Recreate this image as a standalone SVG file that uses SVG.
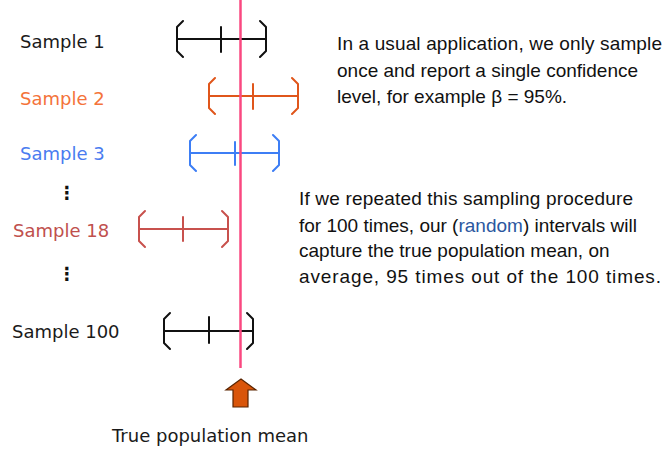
<svg xmlns="http://www.w3.org/2000/svg" xmlns:xlink="http://www.w3.org/1999/xlink" width="664" height="449" viewBox="0 0 664 449">
<style>
.lbl{font-family:"DejaVu Sans",Verdana,sans-serif;font-size:18px}
.note{font-family:"Liberation Sans",Arial,sans-serif;font-size:19px;fill:#111}
.ci{fill:none;stroke-width:2;stroke-linecap:round;stroke-linejoin:round}
</style>
<defs>
<path id="interval" d="M6,-18 L0,-12 L0,12 L6,18 M0,0 L89,0 M83,-18 L89,-12 L89,12 L83,18"/>
</defs>
<rect width="664" height="449" fill="#fff"/>
<g id="sample1">
<text class="lbl" x="20" y="48" fill="#1a1a1a">Sample 1</text>
<use xlink:href="#interval" class="ci" stroke="#111" transform="translate(177,39)"/>
<line class="ci" stroke="#111" x1="221" y1="27" x2="221" y2="52"/>
</g>
<g id="sample2">
<text class="lbl" x="20" y="105" fill="#F4733A">Sample 2</text>
<use xlink:href="#interval" class="ci" stroke="#E0561B" transform="translate(209,96)"/>
<line class="ci" stroke="#E0561B" x1="253" y1="84" x2="253" y2="109"/>
</g>
<g id="sample3">
<text class="lbl" x="20" y="160" fill="#4A7CF0">Sample 3</text>
<use xlink:href="#interval" class="ci" stroke="#3D7EF5" transform="translate(190,153)"/>
<line class="ci" stroke="#3D7EF5" x1="235" y1="142" x2="235" y2="165"/>
</g>
<g id="dots1"><text class="lbl" x="67" y="199" text-anchor="middle" fill="#111" font-size="26" font-weight="bold">⋮</text></g>
<g id="sample18">
<text class="lbl" x="13" y="237" fill="#C0504D">Sample 18</text>
<use xlink:href="#interval" class="ci" stroke="#C8514D" transform="translate(139,229)"/>
<line class="ci" stroke="#C8514D" x1="183" y1="217" x2="183" y2="241"/>
</g>
<g id="dots2"><text class="lbl" x="67" y="280" text-anchor="middle" fill="#111" font-size="26" font-weight="bold">⋮</text></g>
<g id="sample100">
<text class="lbl" x="12" y="338" fill="#1a1a1a">Sample 100</text>
<use xlink:href="#interval" class="ci" stroke="#111" transform="translate(164,331)"/>
<line class="ci" stroke="#111" x1="209" y1="317" x2="209" y2="343"/>
</g>
<g id="connectors">
<line x1="240.5" y1="0" x2="240.5" y2="368" stroke="#FA4880" stroke-width="2.5"/>
<polygon points="241,379 256,390 248,390 248,407 233,407 233,390 226,390" fill="#D9550A" stroke="#5a2400" stroke-width="1.2" stroke-linejoin="miter"/>
</g>
<g id="mean-label">
<text class="lbl" x="112" y="442" fill="#1a1a1a">True population mean</text>
</g>
<g id="note1">
<text class="note" x="337" y="50" textLength="325">In a usual application, we only sample</text>
<text class="note" x="337" y="77">once and report a single confidence</text>
<text class="note" x="337" y="103">level, for example β = 95%.</text>
</g>
<g id="note2">
<text class="note" x="299" y="205" textLength="334">If we repeated this sampling procedure</text>
<text class="note" x="299" y="232">for 100 times, our (<tspan fill="#2B57A0">random</tspan>) intervals will</text>
<text class="note" x="299" y="257">capture the true population mean, on</text>
<text class="note" x="299" y="283" textLength="362">average, 95 times out of the 100 times.</text>
</g>
</svg>
